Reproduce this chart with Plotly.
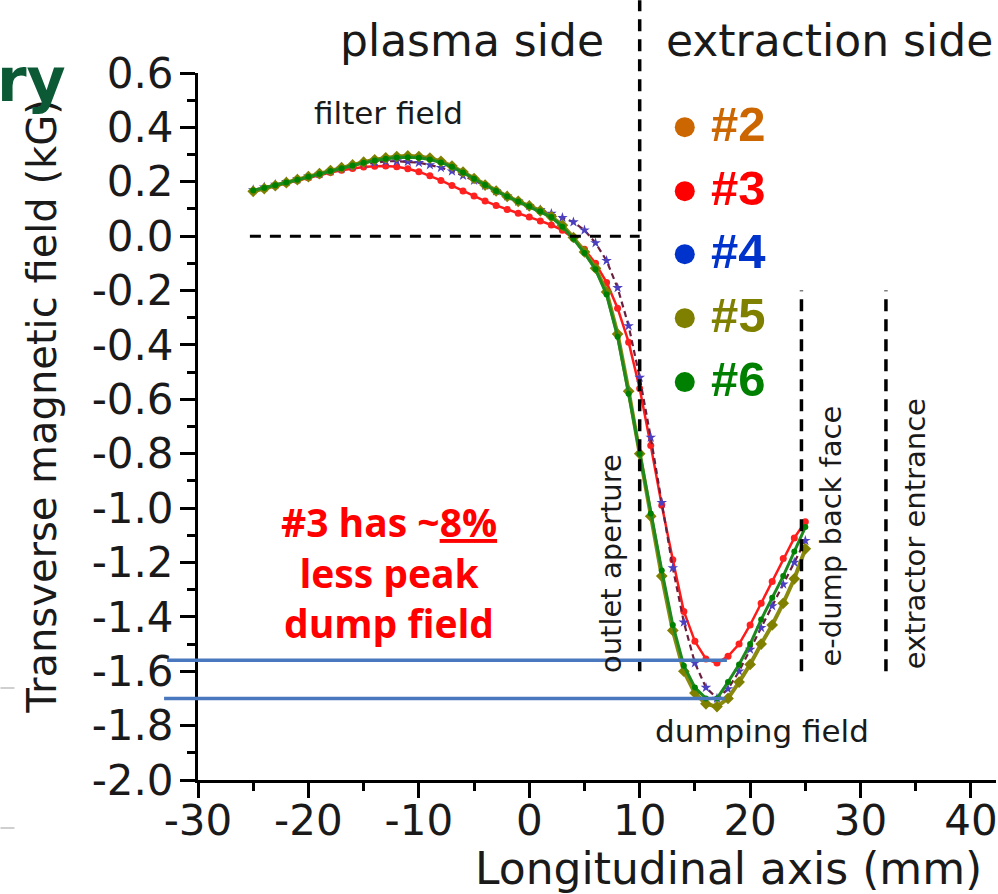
import plotly.graph_objects as go

# ---------------- data ----------------
x_mm = [-25, -24, -23, -22, -21, -20, -19, -18, -17, -16, -15, -14, -13, -12, -11, -10,
        -9, -8, -7, -6, -5, -4, -3, -2, -1, 0, 1, 2, 3, 4, 5, 6, 7, 8, 9, 10,
        11, 12, 13, 14, 15, 16, 17, 18, 19, 20, 21, 22, 23, 24, 25]

field_3 = [0.165, 0.175, 0.185, 0.195, 0.205, 0.215, 0.225, 0.234, 0.242, 0.249, 0.254, 0.257, 0.258,
           0.255, 0.248, 0.237, 0.222, 0.205, 0.186, 0.166, 0.148, 0.129, 0.113, 0.098, 0.084, 0.070,
           0.056, 0.041, 0.022, -0.008, -0.048, -0.100, -0.170, -0.265, -0.39, -0.56, -0.77, -0.99,
           -1.19, -1.38, -1.49, -1.555, -1.57, -1.545, -1.50, -1.43, -1.35, -1.27, -1.185, -1.11, -1.05]

field_4 = [0.170, 0.180, 0.190, 0.200, 0.210, 0.220, 0.230, 0.240, 0.250, 0.258, 0.265, 0.271, 0.275,
           0.276, 0.274, 0.270, 0.262, 0.252, 0.239, 0.223, 0.205, 0.186, 0.166, 0.147, 0.128, 0.112,
           0.097, 0.083, 0.068, 0.052, 0.022, -0.025, -0.090, -0.19, -0.33, -0.52, -0.74, -0.98,
           -1.22, -1.42, -1.57, -1.66, -1.70, -1.665, -1.60, -1.52, -1.44, -1.36, -1.28, -1.20, -1.12]

field_5 = [0.165, 0.175, 0.186, 0.197, 0.208, 0.219, 0.230, 0.241, 0.252, 0.262, 0.272, 0.281, 0.288,
           0.293, 0.295, 0.293, 0.287, 0.275, 0.258, 0.236, 0.212, 0.188, 0.166, 0.146, 0.128, 0.111,
           0.093, 0.072, 0.040, -0.005, -0.058, -0.118, -0.205, -0.36, -0.57, -0.80, -1.03, -1.25,
           -1.45, -1.60, -1.68, -1.72, -1.73, -1.70, -1.64, -1.575, -1.50, -1.43, -1.35, -1.26, -1.15]

field_6 = [0.168, 0.177, 0.187, 0.197, 0.207, 0.218, 0.229, 0.240, 0.250, 0.260, 0.270, 0.278, 0.285,
           0.289, 0.290, 0.288, 0.282, 0.271, 0.255, 0.234, 0.211, 0.188, 0.166, 0.146, 0.127, 0.110,
           0.092, 0.070, 0.035, -0.010, -0.062, -0.122, -0.215, -0.37, -0.58, -0.80, -1.02, -1.23,
           -1.43, -1.58, -1.66, -1.70, -1.70, -1.64, -1.575, -1.50, -1.41, -1.33, -1.25, -1.16, -1.07]

x_tickvals = [-30, -20, -10, 0, 10, 20, 30, 40]
x_ticktext = ["-30", "-20", "-10", "0", "10", "20", "30", "40"]
y_tickvals = [0.6, 0.4, 0.2, 0.0, -0.2, -0.4, -0.6, -0.8, -1.0, -1.2, -1.4, -1.6, -1.8, -2.0]
y_ticktext = ["0.6", "0.4", "0.2", "0.0", "-0.2", "-0.4", "-0.6", "-0.8", "-1.0", "-1.2",
              "-1.4", "-1.6", "-1.8", "-2.0"]

legend_labels = ["#2", "#3", "#4", "#5", "#6"]
legend_colors = ["#CC6600", "#FF0000", "#0033CC", "#808000", "#008000"]

# reference positions (mm / kG)
outlet_x = 10.0
edump_x = 24.65
extractor_x = 32.3
dump3_level = -1.56
dump_level = -1.70

# ---------------- layout geometry ----------------
W, H = 998, 894
ML, MR, MT, MB = 198, 0, 72.8, 114
PW, PH = W - ML - MR, H - MT - MB
X0, X1 = -30.0, -30.0 + PW / 11.07
Y0, Y1 = -2.0, 0.6


def px(xp):
    return (xp - ML) / PW


def py(yp):
    return (H - MB - yp) / PH


def yd2p(v):
    return (v - Y0) / (Y1 - Y0)


def xd2p(v):
    return (v - X0) / (X1 - X0)


FONT = "DejaVu Sans"
TXT = "#1a1a1a"

fig = go.Figure()

fig.add_trace(go.Scatter(x=x_mm, y=field_3, mode="lines+markers", name="#3",
                         line=dict(color="#FF1A1A", width=2.5),
                         marker=dict(symbol="circle", size=7, color="#FF2020")))
fig.add_trace(go.Scatter(x=x_mm, y=field_4, mode="lines+markers", name="#4",
                         line=dict(color="#6B1F3F", width=2.2, dash="6px,4px"),
                         marker=dict(symbol="star", size=8, color="#4B3FC0")))
fig.add_trace(go.Scatter(x=x_mm, y=field_5, mode="lines+markers", name="#5",
                         line=dict(color="#8A8A10", width=4),
                         marker=dict(symbol="diamond", size=9, color="#808000")))
fig.add_trace(go.Scatter(x=x_mm, y=field_6, mode="lines+markers", name="#6",
                         line=dict(color="#1E8A1E", width=3),
                         marker=dict(symbol="circle", size=6, color="#008000")))

dash_v = "12px,8px"
shapes = [
    dict(type="line", xref="x", yref="y", x0=-25.3, x1=outlet_x, y0=0, y1=0,
         line=dict(color="black", width=3, dash="11px,9px")),
    dict(type="line", xref="x", yref="paper", x0=outlet_x, x1=outlet_x,
         y0=yd2p(-1.6), y1=py(0), line=dict(color="black", width=3.5, dash=dash_v)),
    dict(type="line", xref="x", yref="y", x0=edump_x, x1=edump_x, y0=-1.6, y1=-0.2,
         line=dict(color="black", width=3.5, dash=dash_v)),
    dict(type="line", xref="x", yref="y", x0=extractor_x, x1=extractor_x, y0=-1.6, y1=-0.2,
         line=dict(color="black", width=3.5, dash=dash_v)),
    dict(type="line", xref="paper", yref="y", x0=px(167), x1=xd2p(17.9), y0=dump3_level, y1=dump3_level,
         line=dict(color="#4A78BE", width=3.5)),
    dict(type="line", xref="paper", yref="y", x0=px(164), x1=xd2p(17.7), y0=dump_level, y1=dump_level,
         line=dict(color="#4A78BE", width=3.5)),
    dict(type="line", xref="paper", yref="paper", x0=px(0), x1=px(14), y0=py(688), y1=py(688),
         line=dict(color="#cfcfcf", width=2)),
    dict(type="line", xref="paper", yref="paper", x0=px(0), x1=px(14), y0=py(828), y1=py(828),
         line=dict(color="#cfcfcf", width=2)),
]

legend_y = [127, 191, 254, 318, 382]
for lab, col, yy in zip(legend_labels, legend_colors, legend_y):
    shapes.append(dict(type="circle", xref="paper", yref="paper", xsizemode="pixel", ysizemode="pixel",
                       xanchor=px(686), yanchor=py(yy), x0=-10, x1=10, y0=-10, y1=10,
                       fillcolor=col, line=dict(width=0)))

annotations = [
    dict(text="plasma side", x=px(473), y=py(40), font=dict(size=44, color=TXT, family=FONT)),
    dict(text="extraction side", x=px(665), y=py(40), xanchor="left",
         font=dict(size=44, color=TXT, family=FONT)),
    dict(text="filter field", x=px(389), y=py(113), font=dict(size=31, color=TXT, family=FONT)),
    dict(text="dumping field", x=px(763), y=py(731), font=dict(size=31, color=TXT, family=FONT)),
    dict(text="outlet aperture", x=px(612), y=py(563), textangle=-90,
         font=dict(size=29, color=TXT, family=FONT)),
    dict(text="e-dump back face", x=px(833), y=py(536), textangle=-90,
         font=dict(size=29, color=TXT, family=FONT)),
    dict(text="extractor entrance", x=px(917), y=py(534), textangle=-90,
         font=dict(size=29, color=TXT, family=FONT)),
    dict(text="Transverse magnetic field (kG)", x=px(42), y=py(406), textangle=-90,
         font=dict(size=40, color=TXT, family=FONT)),
    dict(text="Longitudinal axis (mm)", x=px(730), y=py(869),
         font=dict(size=44, color=TXT, family=FONT)),
    dict(text="<b>ry</b>", x=px(68), y=py(80), xanchor="right",
         font=dict(size=60, color="#0B5A35", family="DejaVu Sans")),
    dict(text="<b>#3 has ~<span style='text-decoration:underline'>8%</span><br>less peak<br>dump field</b>",
         x=px(389), y=py(572), align="center",
         font=dict(size=39, color="#FF0000", family="Open Sans")),
]
for lab, col, yy in zip(legend_labels, legend_colors, legend_y):
    annotations.append(dict(text="<b>" + lab + "</b>", x=px(710), y=py(yy - 3), xanchor="left",
                            font=dict(size=49, color=col, family="Liberation Sans")))

for a in annotations:
    a.setdefault("xref", "paper")
    a.setdefault("yref", "paper")
    a.setdefault("xanchor", "center")
    a.setdefault("yanchor", "middle")
    a.setdefault("showarrow", False)

axis_common = dict(showline=True, linecolor="black", linewidth=3, ticks="outside", ticklen=15,
                   tickwidth=3, tickcolor="black", showgrid=False, zeroline=False,
                   ticklabeloverflow="allow",
                   tickfont=dict(size=42, color=TXT, family=FONT))

fig.update_layout(
    width=W, height=H, autosize=False,
    margin=dict(l=ML, r=MR, t=MT, b=MB, pad=0),
    paper_bgcolor="white", plot_bgcolor="white",
    showlegend=False,
    xaxis=dict(range=[X0, X1], tickmode="array", tickvals=x_tickvals, ticktext=x_ticktext,
               ticklabelstandoff=-13,
               minor=dict(tickmode="linear", tick0=-25, dtick=10, ticks="outside", ticklen=8,
                          tickwidth=3, tickcolor="black"),
               **axis_common),
    yaxis=dict(range=[Y0, Y1], tickmode="array", tickvals=y_tickvals, ticktext=y_ticktext,
               ticklabelstandoff=-2,
               minor=dict(tickmode="linear", tick0=-1.9, dtick=0.2, ticks="outside", ticklen=8,
                          tickwidth=3, tickcolor="black"),
               **axis_common),
    shapes=shapes,
    annotations=annotations,
)

fig.write_html("out.html", config={"displayModeBar": False},
               post_script="document.body.style.margin='0';")
